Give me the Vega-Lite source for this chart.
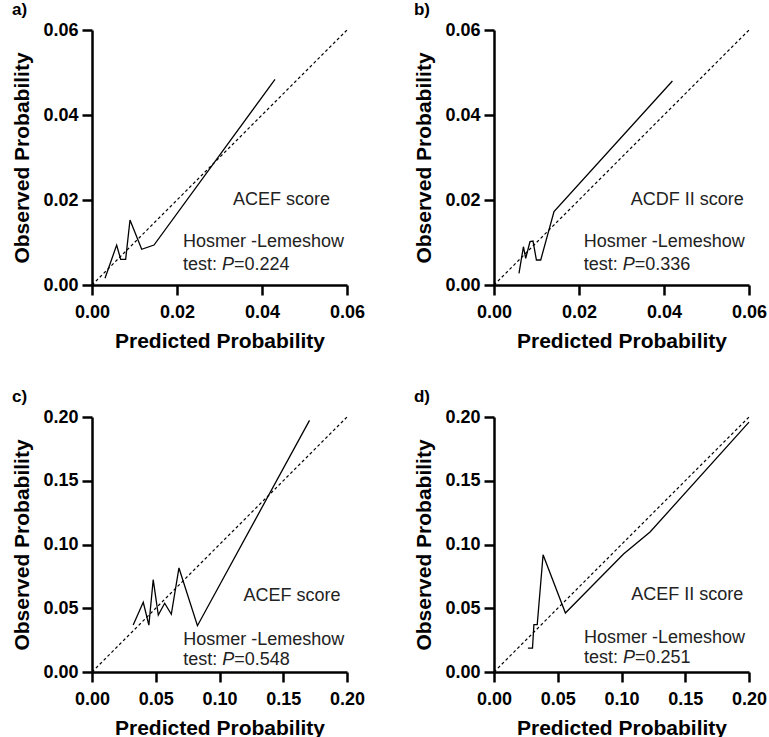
{
  "$schema": "https://vega.github.io/schema/vega-lite/v6.json",
  "autosize": {"type": "none"},
  "padding": {"left": 92, "top": 30, "right": 677, "bottom": 707},
  "background": "white",
  "datasets": {
    "a": [
      {"x": 0.00306, "y": 0.00157},
      {"x": 0.0058, "y": 0.0094},
      {"x": 0.00675, "y": 0.00604},
      {"x": 0.00792, "y": 0.00604},
      {"x": 0.00894, "y": 0.0153},
      {"x": 0.01169, "y": 0.0084},
      {"x": 0.01459, "y": 0.0094},
      {"x": 0.04306, "y": 0.0484}
    ],
    "b": [
      {"x": 0.00588, "y": 0.00275},
      {"x": 0.00692, "y": 0.009},
      {"x": 0.00746, "y": 0.00628},
      {"x": 0.00847, "y": 0.0102},
      {"x": 0.00918, "y": 0.01035},
      {"x": 0.00998, "y": 0.00588},
      {"x": 0.01099, "y": 0.00588},
      {"x": 0.01412, "y": 0.01725},
      {"x": 0.04198, "y": 0.048}
    ],
    "c": [
      {"x": 0.0323, "y": 0.0368},
      {"x": 0.0402, "y": 0.0547},
      {"x": 0.0446, "y": 0.0368},
      {"x": 0.048, "y": 0.0724},
      {"x": 0.052, "y": 0.0447},
      {"x": 0.057, "y": 0.0539},
      {"x": 0.0622, "y": 0.0453},
      {"x": 0.0682, "y": 0.0816},
      {"x": 0.0827, "y": 0.0363},
      {"x": 0.1706, "y": 0.1974}
    ],
    "d": [
      {"x": 0.0266, "y": 0.0188},
      {"x": 0.0302, "y": 0.0188},
      {"x": 0.0313, "y": 0.0371},
      {"x": 0.0339, "y": 0.0371},
      {"x": 0.0385, "y": 0.092},
      {"x": 0.056, "y": 0.0463},
      {"x": 0.1016, "y": 0.0925},
      {"x": 0.1224, "y": 0.1098},
      {"x": 0.2, "y": 0.196}
    ],
    "diag06": [{"x": 0, "y": 0}, {"x": 0.06, "y": 0.06}],
    "diag20": [{"x": 0, "y": 0}, {"x": 0.2, "y": 0.2}],
    "one": [{}]
  },
  "config": {
    "view": {"stroke": null},
    "font": "Liberation Sans",
    "text": {"font": "Liberation Sans", "fontSize": 18, "color": "#222", "align": "left", "baseline": "middle"},
    "axis": {
      "grid": false,
      "domainColor": "black",
      "domainWidth": 2.5,
      "tickColor": "black",
      "tickWidth": 2.5,
      "tickSize": 10,
      "labelFont": "Liberation Sans",
      "labelFontWeight": "bold",
      "labelFontSize": 18,
      "labelColor": "black",
      "titleFont": "Liberation Sans",
      "titleFontWeight": "bold",
      "titleFontSize": 21,
      "titleColor": "black",
      "labelFlush": false,
      "labelOverlap": false
    },
    "axisX": {"labelPadding": 8, "titlePadding": 9},
    "axisY": {"labelPadding": 4, "titlePadding": 10},
    "title": {"anchor": "start", "frame": "bounds", "font": "Liberation Sans", "fontSize": 17, "fontWeight": "bold", "color": "black", "offset": 2}
  },
  "columns": 2,
  "bounds": "flush",
  "spacing": {"row": 132, "column": 147},
  "concat": [
    {
      "width": 255, "height": 255,
      "title": "a)",
      "layer": [
        {
          "data": {"name": "diag06"},
          "mark": {"type": "line", "color": "black", "strokeWidth": 1.2, "strokeDash": [3, 2.5]},
          "encoding": {
            "x": {"field": "x", "type": "quantitative", "scale": {"domain": [0, 0.06], "nice": false}, "axis": {"values": [0, 0.02, 0.04, 0.06], "format": ".2f", "title": "Predicted Probability"}},
            "y": {"field": "y", "type": "quantitative", "scale": {"domain": [0, 0.06], "nice": false}, "axis": {"values": [0, 0.02, 0.04, 0.06], "format": ".2f", "title": "Observed Probability"}}
          }
        },
        {
          "data": {"name": "a"},
          "mark": {"type": "line", "color": "black", "strokeWidth": 1.3},
          "encoding": {"x": {"field": "x", "type": "quantitative"}, "y": {"field": "y", "type": "quantitative"}}
        },
        {
          "data": {"name": "one"},
          "mark": {"type": "text", "text": "ACEF score"},
          "encoding": {"x": {"datum": 0.0332}, "y": {"datum": 0.02}}
        },
        {
          "data": {"name": "one"},
          "mark": {"type": "text", "text": "Hosmer -Lemeshow"},
          "encoding": {"x": {"datum": 0.0214}, "y": {"datum": 0.0101}}
        },
        {
          "data": {"name": "one"},
          "mark": {"type": "text", "text": "test: "},
          "encoding": {"x": {"datum": 0.0214}, "y": {"datum": 0.0047}}
        },
        {
          "data": {"name": "one"},
          "mark": {"type": "text", "fontStyle": "italic", "text": "P", "dx": 39},
          "encoding": {"x": {"datum": 0.0214}, "y": {"datum": 0.0047}}
        },
        {
          "data": {"name": "one"},
          "mark": {"type": "text", "text": "=0.224", "dx": 51},
          "encoding": {"x": {"datum": 0.0214}, "y": {"datum": 0.0047}}
        }
      ]
    },
    {
      "width": 255, "height": 255,
      "title": "b)",
      "layer": [
        {
          "data": {"name": "diag06"},
          "mark": {"type": "line", "color": "black", "strokeWidth": 1.2, "strokeDash": [3, 2.5]},
          "encoding": {
            "x": {"field": "x", "type": "quantitative", "scale": {"domain": [0, 0.06], "nice": false}, "axis": {"values": [0, 0.02, 0.04, 0.06], "format": ".2f", "title": "Predicted Probability"}},
            "y": {"field": "y", "type": "quantitative", "scale": {"domain": [0, 0.06], "nice": false}, "axis": {"values": [0, 0.02, 0.04, 0.06], "format": ".2f", "title": "Observed Probability"}}
          }
        },
        {
          "data": {"name": "b"},
          "mark": {"type": "line", "color": "black", "strokeWidth": 1.3},
          "encoding": {"x": {"field": "x", "type": "quantitative"}, "y": {"field": "y", "type": "quantitative"}}
        },
        {
          "data": {"name": "one"},
          "mark": {"type": "text", "text": "ACDF II score"},
          "encoding": {"x": {"datum": 0.0322}, "y": {"datum": 0.02}}
        },
        {
          "data": {"name": "one"},
          "mark": {"type": "text", "text": "Hosmer -Lemeshow"},
          "encoding": {"x": {"datum": 0.0211}, "y": {"datum": 0.0101}}
        },
        {
          "data": {"name": "one"},
          "mark": {"type": "text", "text": "test: "},
          "encoding": {"x": {"datum": 0.0211}, "y": {"datum": 0.0047}}
        },
        {
          "data": {"name": "one"},
          "mark": {"type": "text", "fontStyle": "italic", "text": "P", "dx": 39},
          "encoding": {"x": {"datum": 0.0211}, "y": {"datum": 0.0047}}
        },
        {
          "data": {"name": "one"},
          "mark": {"type": "text", "text": "=0.336", "dx": 51},
          "encoding": {"x": {"datum": 0.0211}, "y": {"datum": 0.0047}}
        }
      ]
    },
    {
      "width": 255, "height": 255,
      "title": "c)",
      "layer": [
        {
          "data": {"name": "diag20"},
          "mark": {"type": "line", "color": "black", "strokeWidth": 1.2, "strokeDash": [3, 2.5]},
          "encoding": {
            "x": {"field": "x", "type": "quantitative", "scale": {"domain": [0, 0.2], "nice": false}, "axis": {"values": [0, 0.05, 0.1, 0.15, 0.2], "format": ".2f", "title": "Predicted Probability"}},
            "y": {"field": "y", "type": "quantitative", "scale": {"domain": [0, 0.2], "nice": false}, "axis": {"values": [0, 0.05, 0.1, 0.15, 0.2], "format": ".2f", "title": "Observed Probability"}}
          }
        },
        {
          "data": {"name": "c"},
          "mark": {"type": "line", "color": "black", "strokeWidth": 1.3},
          "encoding": {"x": {"field": "x", "type": "quantitative"}, "y": {"field": "y", "type": "quantitative"}}
        },
        {
          "data": {"name": "one"},
          "mark": {"type": "text", "text": "ACEF score"},
          "encoding": {"x": {"datum": 0.1189}, "y": {"datum": 0.0593}}
        },
        {
          "data": {"name": "one"},
          "mark": {"type": "text", "text": "Hosmer -Lemeshow"},
          "encoding": {"x": {"datum": 0.0716}, "y": {"datum": 0.0253}}
        },
        {
          "data": {"name": "one"},
          "mark": {"type": "text", "text": "test: "},
          "encoding": {"x": {"datum": 0.0716}, "y": {"datum": 0.0095}}
        },
        {
          "data": {"name": "one"},
          "mark": {"type": "text", "fontStyle": "italic", "text": "P", "dx": 39},
          "encoding": {"x": {"datum": 0.0716}, "y": {"datum": 0.0095}}
        },
        {
          "data": {"name": "one"},
          "mark": {"type": "text", "text": "=0.548", "dx": 51},
          "encoding": {"x": {"datum": 0.0716}, "y": {"datum": 0.0095}}
        }
      ]
    },
    {
      "width": 255, "height": 255,
      "title": "d)",
      "layer": [
        {
          "data": {"name": "diag20"},
          "mark": {"type": "line", "color": "black", "strokeWidth": 1.2, "strokeDash": [3, 2.5]},
          "encoding": {
            "x": {"field": "x", "type": "quantitative", "scale": {"domain": [0, 0.2], "nice": false}, "axis": {"values": [0, 0.05, 0.1, 0.15, 0.2], "format": ".2f", "title": "Predicted Probability"}},
            "y": {"field": "y", "type": "quantitative", "scale": {"domain": [0, 0.2], "nice": false}, "axis": {"values": [0, 0.05, 0.1, 0.15, 0.2], "format": ".2f", "title": "Observed Probability"}}
          }
        },
        {
          "data": {"name": "d"},
          "mark": {"type": "line", "color": "black", "strokeWidth": 1.3},
          "encoding": {"x": {"field": "x", "type": "quantitative"}, "y": {"field": "y", "type": "quantitative"}}
        },
        {
          "data": {"name": "one"},
          "mark": {"type": "text", "text": "ACEF II score"},
          "encoding": {"x": {"datum": 0.1076}, "y": {"datum": 0.0604}}
        },
        {
          "data": {"name": "one"},
          "mark": {"type": "text", "text": "Hosmer -Lemeshow"},
          "encoding": {"x": {"datum": 0.0706}, "y": {"datum": 0.0267}}
        },
        {
          "data": {"name": "one"},
          "mark": {"type": "text", "text": "test: "},
          "encoding": {"x": {"datum": 0.0706}, "y": {"datum": 0.011}}
        },
        {
          "data": {"name": "one"},
          "mark": {"type": "text", "fontStyle": "italic", "text": "P", "dx": 39},
          "encoding": {"x": {"datum": 0.0706}, "y": {"datum": 0.011}}
        },
        {
          "data": {"name": "one"},
          "mark": {"type": "text", "text": "=0.251", "dx": 51},
          "encoding": {"x": {"datum": 0.0706}, "y": {"datum": 0.011}}
        }
      ]
    }
  ]
}
